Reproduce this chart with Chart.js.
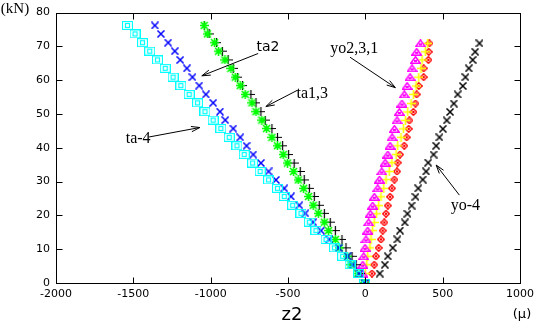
<!DOCTYPE html>
<html>
<head>
<meta charset="utf-8">
<script src="https://cdn.jsdelivr.net/npm/chart.js@4/dist/chart.umd.min.js"></script>
<style>
  html, body { margin: 0; padding: 0; background: #fff; }
  #wrap { width: 539px; height: 329px; }
</style>
</head>
<body>
<div id="wrap"><canvas id="chart" width="539" height="329"></canvas></div>
<script>
// load steps (kN) shared by the ta gauges and by the yo gauges
const loadTa = [0, 2.8, 5.4, 7.9, 10.4, 12.9, 15.5, 18.0, 20.6, 23.0, 25.6, 28.0, 30.5, 33.0, 35.5,
    38.0, 40.6, 43.1, 45.7, 48.2, 50.7, 53.3, 55.8, 58.4, 60.9, 63.5, 66.0, 68.6, 71.1, 73.7, 76.2];
const loadYo = [0, 2.8, 5.4, 7.9, 10.4, 12.9, 15.5, 17.9, 20.5, 22.9, 25.5, 28.0, 30.6, 33.0, 35.6,
    38.0, 40.6, 43.1, 45.6, 48.1, 50.6, 53.1, 55.8, 58.3, 60.9, 63.5, 66.0, 68.4, 70.9];

// strain readings (micro) for each gauge
const ta4a = [-6, -43, -99, -147, -200, -254, -319, -362, -416, -470, -524, -568, -626, -680, -729,
    -783, -830, -880, -934, -984, -1037, -1085, -1139, -1193, -1243, -1294, -1344, -1394, -1441, -1489, -1538];
const ta4b = [-5, -39, -82, -115, -173, -233, -287, -337, -388, -427, -481, -524, -578, -626, -675,
    -725, -768, -809, -854, -906, -940, -984, -1031, -1074, -1118, -1154, -1197, -1232, -1275, -1322, -1361];
const ta2 = [-8, -50, -93, -115, -168, -194, -238, -265, -304, -337, -367, -399, -434, -464, -503,
    -531, -568, -604, -639, -669, -707, -733, -777, -809, -841, -869, -908, -949, -975, -1021, -1042];
const ta13 = [-5, -30, -60, -86, -125, -151, -194, -227, -265, -298, -330, -362, -395, -421, -460,
    -496, -535, -568, -604, -647, -675, -707, -740, -794, -826, -854, -887, -924, -962, -1010, -1040];
const yo2 = [0, -17, -17, -11, -2, 4, 15, 21, 32, 47, 58, 80, 91, 106, 128,
    145, 160, 173, 188, 205, 220, 237, 252, 270, 289, 302, 324, 332, 356];
const yo3 = [3, 0, 9, 15, 30, 37, 47, 58, 73, 86, 101, 119, 134, 155, 172,
    199, 209, 231, 246, 259, 274, 296, 311, 328, 345, 360, 367, 388, 403];
const yo1 = [5, 43, 58, 69, 86, 101, 112, 123, 134, 145, 160, 172, 188, 205, 209,
    224, 252, 267, 280, 285, 311, 324, 332, 345, 377, 377, 408, 410, 414];
const yo4 = [0, 93, 126, 145, 177, 207, 224, 255, 272, 299, 324, 342, 371, 393, 406,
    441, 458, 479, 501, 526, 548, 572, 597, 630, 647, 669, 694, 710, 738];

const xTicks = [-2000, -1500, -1000, -500, 0, 500, 1000];
const yTicks = [0, 10, 20, 30, 40, 50, 60, 70, 80];

// labels with arrows, in data units
const noteText = ["ta2", "ta1,3", "ta-4", "yo2,3,1", "yo-4"];
const noteX = [-630, -343, -1469, -71, 647];
const noteY = [69.6, 56.1, 42.6, 69.4, 22.7];
const arrowFrom = [[-693, 67.9], [-440, 57.0], [-1398, 43.2], [-99, 66.8], [608, 26.0]];
const arrowTo = [[-1057, 61.3], [-643, 52.2], [-1070, 46.0], [194, 57.8], [458, 34.9]];

function pts(xs, ys) {
    return xs.map((v, i) => ({ x: v, y: ys[i] }));
}

function marker(w, h, draw) {
    const c = document.createElement("canvas");
    c.width = w;
    c.height = h;
    const g = c.getContext("2d");
    draw(g);
    return c;
}

const boxMark = marker(11, 9, g => {
    g.strokeStyle = "#00ffff";
    g.lineWidth = 1.2;
    g.strokeRect(0.5, 0.5, 10, 8);
    g.strokeRect(3.5, 2.5, 4, 4);
});
const crossMark = color => marker(8, 8, g => {
    g.strokeStyle = color;
    g.lineWidth = 1.5;
    g.beginPath();
    g.moveTo(0.5, 0.5); g.lineTo(7.5, 7.5);
    g.moveTo(7.5, 0.5); g.lineTo(0.5, 7.5);
    g.stroke();
});
const starMark = marker(9, 9, g => {
    g.strokeStyle = "#00ff00";
    g.lineWidth = 1.6;
    g.beginPath();
    g.moveTo(1, 1); g.lineTo(8, 8);
    g.moveTo(8, 1); g.lineTo(1, 8);
    g.moveTo(4.5, 0); g.lineTo(4.5, 9);
    g.moveTo(0, 4.5); g.lineTo(9, 4.5);
    g.stroke();
});
const plusMark = (color, lw) => marker(9, 9, g => {
    g.strokeStyle = color;
    g.lineWidth = lw;
    g.beginPath();
    g.moveTo(4.5, 0); g.lineTo(4.5, 9);
    g.moveTo(0, 4.5); g.lineTo(9, 4.5);
    g.stroke();
});
const triMark = marker(11, 8, g => {
    g.strokeStyle = "#ff00ff";
    g.lineWidth = 1.5;
    g.beginPath();
    g.moveTo(5.5, 0.8); g.lineTo(10.2, 7.2); g.lineTo(0.8, 7.2); g.closePath();
    g.stroke();
    g.fillStyle = "#ff00ff";
    g.fillRect(4, 4, 3, 2);
});
const diamondMark = marker(8, 8, g => {
    g.strokeStyle = "#ff0000";
    g.lineWidth = 1.4;
    g.beginPath();
    g.moveTo(4, 0.7); g.lineTo(7.3, 4); g.lineTo(4, 7.3); g.lineTo(0.7, 4); g.closePath();
    g.stroke();
    g.fillStyle = "#ff0000";
    g.fillRect(3, 3, 2, 2);
});

function series(xs, ys, style) {
    return { data: pts(xs, ys), pointStyle: style, pointRadius: 4, pointHoverRadius: 4, showLine: false };
}

const frame = {
    id: "frame",
    afterDraw(chart) {
        const { ctx, chartArea: a, scales: { x, y } } = chart;
        const L = Math.round(a.left) + 0.5, R = Math.round(a.right) + 0.5;
        const T = Math.round(a.top) + 0.5, B = Math.round(a.bottom) + 0.5;
        ctx.save();
        ctx.strokeStyle = "#000";
        ctx.lineWidth = 1;
        ctx.strokeRect(L, T, R - L, B - T);
        ctx.beginPath();
        xTicks.slice(1, -1).forEach(v => {
            const px = Math.round(x.getPixelForValue(v)) + 0.5;
            ctx.moveTo(px, B); ctx.lineTo(px, B - 6);
            ctx.moveTo(px, T); ctx.lineTo(px, T + 6);
        });
        yTicks.slice(1, -1).forEach(v => {
            const py = Math.round(y.getPixelForValue(v)) + 0.5;
            ctx.moveTo(L, py); ctx.lineTo(L + 6, py);
            ctx.moveTo(R, py); ctx.lineTo(R - 6, py);
        });
        ctx.stroke();

        // arrows
        ctx.lineWidth = 1;
        arrowFrom.forEach((f, i) => {
            const x0 = x.getPixelForValue(f[0]), y0 = y.getPixelForValue(f[1]);
            const x1 = x.getPixelForValue(arrowTo[i][0]), y1 = y.getPixelForValue(arrowTo[i][1]);
            const ang = Math.atan2(y1 - y0, x1 - x0);
            ctx.beginPath();
            ctx.moveTo(x0, y0); ctx.lineTo(x1, y1);
            ctx.moveTo(x1 - 9 * Math.cos(ang - 0.3), y1 - 9 * Math.sin(ang - 0.3));
            ctx.lineTo(x1, y1);
            ctx.lineTo(x1 - 9 * Math.cos(ang + 0.3), y1 - 9 * Math.sin(ang + 0.3));
            ctx.stroke();
        });

        ctx.fillStyle = "#000";
        ctx.textAlign = "center";
        ctx.textBaseline = "middle";
        noteText.forEach((t, i) => {
            ctx.font = t === "ta2" ? "14px 'DejaVu Sans'" : "16px 'Liberation Serif'";
            ctx.fillText(t, x.getPixelForValue(noteX[i]), y.getPixelForValue(noteY[i]));
        });

        // axis names
        ctx.font = "15px 'Liberation Serif'";
        ctx.fillText("(kN)", 15, 9);
        ctx.font = "13px 'DejaVu Sans'";
        ctx.fillText("(\u03bc)", 522, 315);
        ctx.font = "18px 'DejaVu Sans'";
        ctx.fillText("z2", 292, 315);
        ctx.restore();
    }
};

new Chart(document.getElementById("chart"), {
    type: "scatter",
    data: {
        datasets: [
            series(ta4a, loadTa, boxMark),
            series(ta4b, loadTa, crossMark("#0000ff")),
            series(ta2, loadTa, starMark),
            series(ta13, loadTa, plusMark("#000000", 1.2)),
            series(yo2, loadYo, triMark),
            series(yo3, loadYo, plusMark("#ffff00", 1.6)),
            series(yo1, loadYo, diamondMark),
            series(yo4, loadYo, crossMark("#000000"))
        ]
    },
    options: {
        responsive: false,
        animation: false,
        layout: { padding: { top: 5, right: 19, left: 0, bottom: 0 } },
        plugins: { legend: { display: false }, tooltip: { enabled: false } },
        scales: {
            x: {
                type: "linear",
                min: -2000,
                max: 1000,
                afterBuildTicks: s => { s.ticks = xTicks.map(v => ({ value: v })); },
                afterFit: s => { s.height = 46; },
                grid: { display: false, drawTicks: false },
                border: { display: false },
                ticks: {
                    padding: 5,
                    color: "#000",
                    font: { family: "DejaVu Sans", size: 11 },
                    maxRotation: 0,
                    callback: v => String(v)
                }
            },
            y: {
                type: "linear",
                min: 0,
                max: 80,
                afterBuildTicks: s => { s.ticks = yTicks.map(v => ({ value: v })); },
                afterFit: s => { s.width = 56; },
                grid: { display: false, drawTicks: false },
                border: { display: false },
                ticks: {
                    padding: 6,
                    color: "#000",
                    font: { family: "DejaVu Sans", size: 11 },
                    callback: v => String(v)
                }
            }
        }
    },
    plugins: [frame]
});
</script>
</body>
</html>
